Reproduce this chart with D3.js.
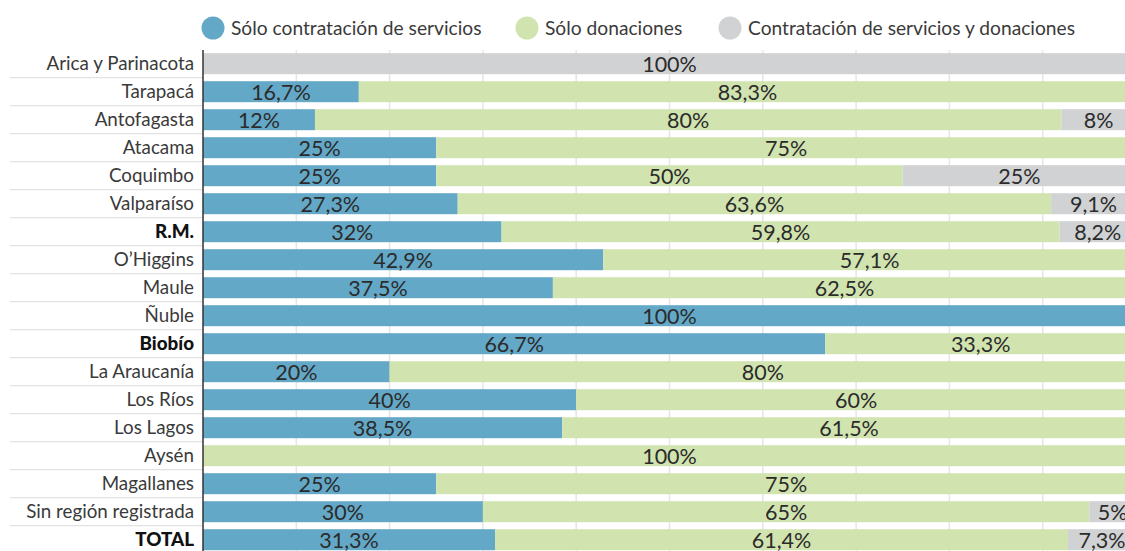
<!DOCTYPE html>
<html>
<head>
<meta charset="utf-8">
<script src="https://cdn.jsdelivr.net/npm/d3@7"></script>
<style>
  body { margin: 0; background: #fff; }
  svg { display: block; font-family: Lato, "Open Sans", sans-serif; }
  .lbl { fill: #3a3a3a; font-size: 18.8px; }
  .val { fill: #2b2b2b; font-size: 21.5px; }
  .leg { fill: #3a3a3a; font-size: 19.2px; }
</style>
</head>
<body>
<div id="chart"></div>
<script>
// regions, top to bottom
const regions = ["Arica y Parinacota", "Tarapacá", "Antofagasta", "Atacama", "Coquimbo", "Valparaíso",
  "R.M.", "O’Higgins", "Maule", "Ñuble", "Biobío", "La Araucanía", "Los Ríos", "Los Lagos",
  "Aysén", "Magallanes", "Sin región registrada", "TOTAL"];
const boldRegions = ["R.M.", "Biobío", "TOTAL"];

const series = ["Sólo contratación de servicios", "Sólo donaciones", "Contratación de servicios y donaciones"];
const colors = ["#63a8c7", "#d1e4b0", "#d1d2d4"];

const soloServicios  = [0, 16.7, 12, 25, 25, 27.3, 32, 42.9, 37.5, 100, 66.7, 20, 40, 38.5, 0, 25, 30, 31.3];
const soloDonaciones = [0, 83.3, 80, 75, 50, 63.6, 59.8, 57.1, 62.5, 0, 33.3, 80, 60, 61.5, 100, 75, 65, 61.4];
const ambos          = [100, 0, 8, 0, 25, 9.1, 8.2, 0, 0, 0, 0, 0, 0, 0, 0, 0, 5, 7.3];

const W = 1125, H = 551;
const svg = d3.select("#chart").append("svg")
  .attr("width", W)
  .attr("height", H);

const x = d3.scaleLinear().domain([0, 100]).range([203, 1136]);
const y = d3.scaleBand().domain(regions).range([49.7, 49.7 + 28 * regions.length]).paddingInner(0.25).paddingOuter(0.125);

const rows = regions.map((r, i) => ({ region: r, v: [soloServicios[i], soloDonaciones[i], ambos[i]] }));

// grid
svg.append("g")
  .selectAll("line")
  .data(d3.range(10, 101, 10))
  .join("line")
  .attr("x1", d => x(d)).attr("x2", d => x(d))
  .attr("y1", 50).attr("y2", H)
  .attr("stroke", "#e6e6e6")
  .attr("stroke-width", 1.5);

// row separators on the label side
svg.append("g")
  .selectAll("line")
  .data(regions.slice(1))
  .join("line")
  .attr("x1", 10).attr("x2", 203)
  .attr("y1", d => y(d) - y.step() * y.paddingInner() / 2)
  .attr("y2", d => y(d) - y.step() * y.paddingInner() / 2)
  .attr("stroke", "#e2e2e2")
  .attr("stroke-width", 1.2);

// stacked segments
const segs = [];
rows.forEach(r => {
  let acc = 0;
  r.v.forEach((v, k) => {
    if (v > 0) segs.push({ region: r.region, k: k, x0: acc, x1: acc + v, v: v });
    acc += v;
  });
});

const g = svg.append("g");
g.selectAll("rect")
  .data(segs)
  .join("rect")
  .attr("x", d => x(d.x0))
  .attr("y", d => y(d.region))
  .attr("width", d => x(d.x1) - x(d.x0))
  .attr("height", y.bandwidth())
  .attr("fill", d => colors[d.k]);

g.selectAll("text")
  .data(segs)
  .join("text")
  .attr("class", "val")
  .attr("x", d => (x(d.x0) + x(d.x1)) / 2)
  .attr("y", d => y(d.region) + y.bandwidth() / 2)
  .attr("dy", "0.38em")
  .attr("text-anchor", "middle")
  .text(d => String(d.v).replace(".", ",") + "%");

// axis line
svg.append("line")
  .attr("x1", x(0)).attr("x2", x(0))
  .attr("y1", 50).attr("y2", H)
  .attr("stroke", "#333")
  .attr("stroke-width", 1.5);

// category labels
svg.append("g")
  .selectAll("text")
  .data(regions)
  .join("text")
  .attr("class", "lbl")
  .attr("x", 194)
  .attr("y", d => y(d) + y.bandwidth() / 2)
  .attr("dy", "0.36em")
  .attr("text-anchor", "end")
  .style("font-weight", d => boldRegions.includes(d) ? "900" : null)
  .style("fill", d => boldRegions.includes(d) ? "#111" : null)
  .text(d => d);

// legend
const legX = [213, 527, 730];
const leg = svg.append("g")
  .selectAll("g")
  .data(series)
  .join("g")
  .attr("transform", (d, i) => `translate(${legX[i]},28)`);
leg.append("circle").attr("r", 11.5).attr("fill", (d, i) => colors[i]);
leg.append("text")
  .attr("class", "leg")
  .attr("x", 18)
  .attr("dy", "0.36em")
  .text(d => d);
</script>
</body>
</html>
